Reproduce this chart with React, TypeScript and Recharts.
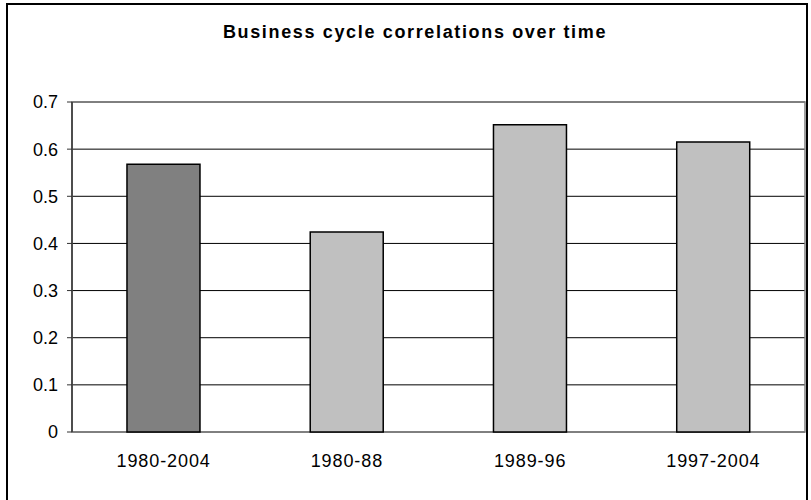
import React from 'react';
import { BarChart, Bar, XAxis, YAxis, CartesianGrid, Cell, ReferenceArea } from 'recharts';

const categories = ['1980-2004', '1980-88', '1989-96', '1997-2004'];
const correlations = [0.568, 0.424, 0.652, 0.615];
const barColors = ['#808080', '#C0C0C0', '#C0C0C0', '#C0C0C0'];
const yTicks = [0, 0.1, 0.2, 0.3, 0.4, 0.5, 0.6, 0.7];
const boundaryTicks = [0, 1, 2, 3, 4];
const title = 'Business cycle correlations over time';

const data = categories.map((c, i) => ({ name: c, value: correlations[i] }));

const FONT = '"Liberation Sans", Arial, sans-serif';

export default function App() {
  return (
    <div style={{ position: 'absolute', left: 0, top: 0, width: 811, height: 500, background: '#fff', overflow: 'hidden' }}>
      <div
        style={{
          position: 'absolute',
          left: 6,
          top: 3,
          width: 802,
          height: 520,
          borderTop: '2px solid #000',
          borderLeft: '2px solid #000',
          borderRight: '2px solid #000',
          boxSizing: 'border-box',
        }}
      />
      <svg style={{ position: 'absolute', left: 0, top: 0 }} width={811} height={60}>
        <text
          x={415}
          y={38}
          textAnchor="middle"
          fontFamily={FONT}
          fontWeight="bold"
          fontSize={18}
          letterSpacing={1.65}
          fill="#000"
        >
          {title}
        </text>
      </svg>
      <div style={{ position: 'absolute', left: 0, top: 0 }}>
        <BarChart
          width={811}
          height={500}
          data={data}
          margin={{ top: 102, right: 6, bottom: 28, left: 8 }}
          barCategoryGap="30%"
        >
          <CartesianGrid
            xAxisId="cat"
            yAxisId="y"
            vertical={false}
            stroke="#000"
            strokeWidth={1}
          />
          <ReferenceArea
            yAxisId="y"
            xAxisId="cat"
            y1={0}
            y2={0.7}
            fill="none"
            stroke="#808080"
            strokeWidth={1.5}
            ifOverflow="visible"
          />
          <XAxis
            xAxisId="grid"
            type="number"
            dataKey={() => 0}
            domain={[0, 4]}
            ticks={boundaryTicks}
            tickFormatter={() => ''}
            height={0}
            tickSize={6}
            axisLine={{ stroke: '#333', strokeWidth: 1.5 }}
            tickLine={{ stroke: '#333', strokeWidth: 1 }}
            allowDataOverflow
          />
          <XAxis
            xAxisId="cat"
            dataKey="name"
            height={40}
            axisLine={false}
            tickLine={false}
            tickSize={0}
            tickMargin={22}
            interval={0}
            tick={{ fill: '#000', fontFamily: FONT, fontSize: 18, letterSpacing: 0.9 }}
          />
          <YAxis
            yAxisId="y"
            width={64}
            domain={[0, 0.7]}
            ticks={yTicks}
            interval={0}
            tickSize={5}
            tickMargin={9}
            axisLine={{ stroke: '#333', strokeWidth: 1.5 }}
            tickLine={{ stroke: '#333', strokeWidth: 1 }}
            tick={{ fill: '#000', fontFamily: FONT, fontSize: 18 }}
          />
          <Bar
            xAxisId="cat"
            yAxisId="y"
            dataKey="value"
            stroke="#000"
            strokeWidth={1.5}
            isAnimationActive={false}
          >
            {data.map((d, i) => (
              <Cell key={d.name} fill={barColors[i]} />
            ))}
          </Bar>
        </BarChart>
      </div>
    </div>
  );
}
